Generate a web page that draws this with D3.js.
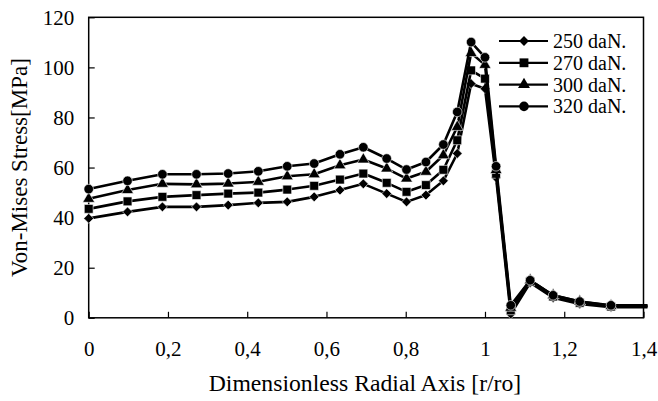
<!DOCTYPE html>
<html>
<head>
<meta charset="utf-8">
<script src="https://cdn.jsdelivr.net/npm/d3@7"></script>
<style>
  html, body { margin: 0; padding: 0; background: #fff; }
  svg { display: block; }
  text { font-family: "Liberation Serif", "Times New Roman", serif; fill: #000; }
</style>
</head>
<body>
<svg id="chart" width="658" height="401"></svg>
<script>
// ---- data ----
const xValues = [0, 0.098, 0.186, 0.272, 0.352, 0.428, 0.501, 0.569, 0.634, 0.693, 0.752, 0.802, 0.851, 0.895, 0.930, 0.965, 1.0, 1.028, 1.065, 1.114, 1.172, 1.239, 1.318, 1.41];
const s250 = [39.7, 42.3, 44.3, 44.3, 45.0, 45.9, 46.3, 48.3, 51.0, 53.5, 49.6, 46.3, 49.0, 54.7, 65.6, 93.5, 91.5, 56.0, 1.5, 14.0, 8.0, 5.5, 4.2, 4.2];
const s270 = [43.5, 46.5, 48.3, 49.0, 49.6, 50.0, 51.2, 52.7, 55.2, 57.6, 53.9, 50.3, 53.0, 59.1, 70.9, 98.8, 95.5, 57.5, 3.0, 14.5, 8.5, 6.0, 4.5, 4.5];
const s300 = [47.5, 51.0, 53.5, 53.3, 53.6, 54.3, 56.5, 57.3, 60.9, 63.2, 59.6, 55.6, 58.3, 64.9, 76.2, 105.7, 101.0, 59.0, 4.0, 15.0, 9.0, 6.5, 4.8, 4.8];
const s320 = [51.4, 54.7, 57.3, 57.3, 57.6, 58.5, 60.5, 61.6, 65.3, 68.1, 63.6, 59.2, 62.2, 69.2, 82.2, 110.1, 104.0, 60.5, 5.0, 15.0, 9.0, 6.5, 5.0, 5.0];
const seriesNames = ["250 daN.", "270 daN.", "300 daN.", "320 daN."];
const markerTypes = ["diamond", "square", "triangle", "circle"];
const xTicks = [0, 0.2, 0.4, 0.6, 0.8, 1.0, 1.2, 1.4];
const yTicks = [0, 20, 40, 60, 80, 100, 120];
const xTitle = "Dimensionless Radial Axis [r/ro]";
const yTitle = "Von-Mises Stress[MPa]";

const seriesValues = [s250, s270, s300, s320];
const series = seriesNames.map((name, i) => ({
  name, marker: markerTypes[i],
  points: xValues.map((x, j) => ({ x, y: seriesValues[i][j] }))
}));

// ---- layout ----
const L = 88.7, R = 643.5, T = 17.3, B = 317.8;
const FONT = "Liberation Serif, Times New Roman, serif";
const svg = d3.select("#chart");
const x = d3.scaleLinear().domain([0, 1.4]).range([L, R]);
const y = d3.scaleLinear().domain([0, 120]).range([B, T]);

const fmt = d => (Math.round(d * 10) / 10).toString().replace(".", ",");

// axes
const xAxis = svg.append("g").attr("transform", `translate(0,${B})`)
  .call(d3.axisBottom(x).tickValues(xTicks).tickFormat(fmt).tickSizeInner(-6).tickSizeOuter(0).tickPadding(22.8));
const yAxis = svg.append("g").attr("transform", `translate(${L},0)`)
  .call(d3.axisLeft(y).tickValues(yTicks).tickFormat(d3.format("d")).tickSizeInner(-6).tickSizeOuter(0).tickPadding(14.5));
[xAxis, yAxis].forEach(g => {
  g.attr("font-family", FONT).attr("font-size", 21);
  g.select(".domain").remove();
  g.selectAll(".tick line").attr("stroke", "#000").attr("stroke-width", 1.2);
  g.selectAll(".tick text").attr("font-family", FONT).attr("font-size", 21).attr("fill", "#000");
});

// plot border
svg.append("rect").attr("x", L).attr("y", T).attr("width", R - L).attr("height", B - T)
  .attr("fill", "none").attr("stroke", "#000").attr("stroke-width", 1.5);

// marker symbols
function symbolPath(type) {
  const map = {
    diamond: d3.symbol().type(d3.symbolDiamond2 || d3.symbolDiamond).size(62),
    square: d3.symbol().type(d3.symbolSquare).size(78),
    triangle: d3.symbol().type(d3.symbolTriangle).size(62),
    circle: d3.symbol().type(d3.symbolCircle).size(72)
  };
  return map[type]();
}

const line = d3.line().x(d => x(d.x)).y(d => y(d.y));

series.forEach(s => {
  const g = svg.append("g");
  g.append("path").datum(s.points).attr("d", line)
    .attr("fill", "none").attr("stroke", "#000").attr("stroke-width", 2.6).attr("stroke-linejoin", "round");
  g.selectAll("path.m").data(s.points.filter(p => p.x <= 1.4)).join("path").attr("class", "m")
    .attr("d", symbolPath(s.marker))
    .attr("transform", d => `translate(${x(d.x)},${y(d.y)})`)
    .attr("fill", "#000").attr("stroke", "#fff").attr("stroke-width", 0.6);
});

// legend
const leg = svg.append("g");
series.forEach((s, i) => {
  const yy = 41 + i * 21.8;
  leg.append("line").attr("x1", 499).attr("x2", 548).attr("y1", yy).attr("y2", yy)
    .attr("stroke", "#000").attr("stroke-width", 2.2);
  leg.append("path").attr("d", symbolPath(s.marker)).attr("transform", `translate(524,${yy})`).attr("fill", "#000");
  leg.append("text").attr("x", 553).attr("y", yy).attr("dy", "0.35em")
    .attr("font-family", FONT).attr("font-size", 20).text(s.name);
});

// titles
svg.append("text").attr("x", 365).attr("y", 391).attr("text-anchor", "middle")
  .attr("font-family", FONT).attr("font-size", 23.7).text(xTitle);
svg.append("text").attr("transform", `translate(27,${(T + B) / 2}) rotate(-90)`).attr("text-anchor", "middle")
  .attr("font-family", FONT).attr("font-size", 23).text(yTitle);
</script>
</body>
</html>
